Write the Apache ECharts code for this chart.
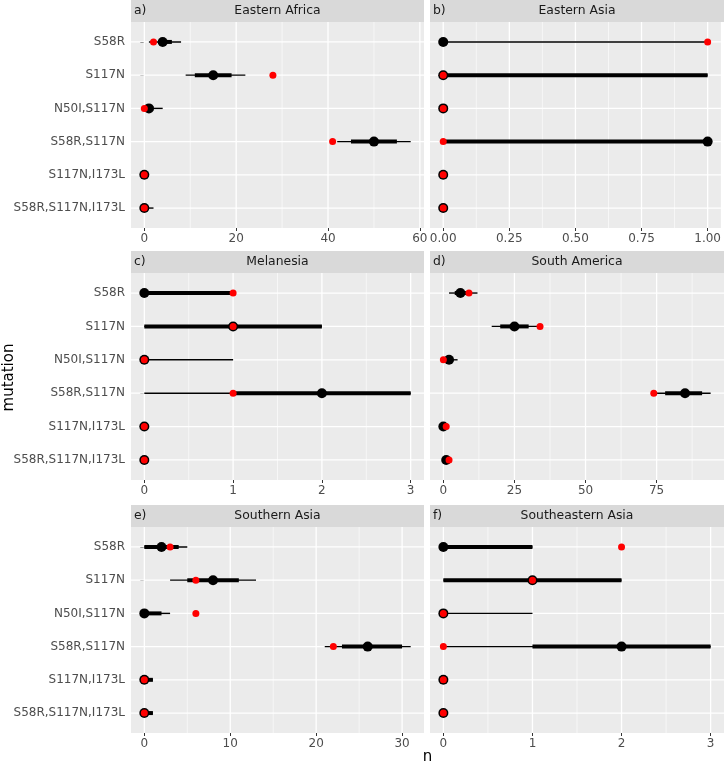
<!DOCTYPE html>
<html><head><meta charset="utf-8">
<script src="https://cdn.jsdelivr.net/npm/echarts@6/dist/echarts.min.js"></script>
<style>html,body{margin:0;padding:0;background:#fff}#c{width:724px;height:766px}</style>
</head><body><div id="c"></div>
<script>
// ---------------- DATA ----------------
const categories = ['S58R','S117N','N50I,S117N','S58R,S117N','S117N,I173L','S58R,S117N,I173L'];
const regions = ['Eastern Africa','Eastern Asia','Melanesia','South America','Southern Asia','Southeastern Asia'];
const panelTags = ['a)','b)','c)','d)','e)','f)'];
const tickLabels = [[0,20,40,60],[0,0.25,0.5,0.75,1],[0,1,2,3],[0,25,50,75],[0,10,20,30],[0,1,2,3]];
const tickDecimals = [0,2,0,0,0,0];

const easternAfricaMedian = [4,15,1,50,0,0];
const easternAfricaLo95   = [1,9,0,42,0,0];
const easternAfricaHi95   = [8,22,4,58,1,2];
const easternAfricaLo50   = [3,11,0,45,0,0];
const easternAfricaHi50   = [6,19,2,55,0,1];
const easternAfricaObs    = [2,28,0,41,0,0];

const easternAsiaMedian = [0,0,0,1,0,0];
const easternAsiaLo95   = [0,0,0,0,0,0];
const easternAsiaHi95   = [1,1,0,1,0,0];
const easternAsiaLo50   = [0,0,0,0,0,0];
const easternAsiaHi50   = [0,1,0,1,0,0];
const easternAsiaObs    = [1,0,0,0,0,0];

const melanesiaMedian = [0,1,0,2,0,0];
const melanesiaLo95   = [0,0,0,0,0,0];
const melanesiaHi95   = [1,2,1,3,0,0];
const melanesiaLo50   = [0,0,0,1,0,0];
const melanesiaHi50   = [1,2,0,3,0,0];
const melanesiaObs    = [1,1,0,1,0,0];

const southAmericaMedian = [6,25,2,85,0,1];
const southAmericaLo95   = [2,17,0,74,0,0];
const southAmericaHi95   = [12,33,5,94,1,2];
const southAmericaLo50   = [4,20,1,78,0,1];
const southAmericaHi50   = [8,30,3,91,1,2];
const southAmericaObs    = [9,34,0,74,1,2];

const southernAsiaMedian = [2,8,0,26,0,0];
const southernAsiaLo95   = [0,3,0,21,0,0];
const southernAsiaHi95   = [5,13,3,31,1,1];
const southernAsiaLo50   = [0,5,0,23,0,0];
const southernAsiaHi50   = [4,11,2,30,1,1];
const southernAsiaObs    = [3,6,6,22,0,0];

const southeasternAsiaMedian = [0,1,0,2,0,0];
const southeasternAsiaLo95   = [0,0,0,0,0,0];
const southeasternAsiaHi95   = [1,2,1,3,0,0];
const southeasternAsiaLo50   = [0,0,0,1,0,0];
const southeasternAsiaHi50   = [1,2,0,3,0,0];
const southeasternAsiaObs    = [2,1,0,0,0,0];

const panelData = [
  {median:easternAfricaMedian, lo95:easternAfricaLo95, hi95:easternAfricaHi95, lo50:easternAfricaLo50, hi50:easternAfricaHi50, obs:easternAfricaObs},
  {median:easternAsiaMedian, lo95:easternAsiaLo95, hi95:easternAsiaHi95, lo50:easternAsiaLo50, hi50:easternAsiaHi50, obs:easternAsiaObs},
  {median:melanesiaMedian, lo95:melanesiaLo95, hi95:melanesiaHi95, lo50:melanesiaLo50, hi50:melanesiaHi50, obs:melanesiaObs},
  {median:southAmericaMedian, lo95:southAmericaLo95, hi95:southAmericaHi95, lo50:southAmericaLo50, hi50:southAmericaHi50, obs:southAmericaObs},
  {median:southernAsiaMedian, lo95:southernAsiaLo95, hi95:southernAsiaHi95, lo50:southernAsiaLo50, hi50:southernAsiaHi50, obs:southernAsiaObs},
  {median:southeasternAsiaMedian, lo95:southeasternAsiaLo95, hi95:southeasternAsiaHi95, lo50:southeasternAsiaLo50, hi50:southeasternAsiaHi50, obs:southeasternAsiaObs}
];

// ---------------- LAYOUT ----------------
const FONT = 'DejaVu Sans';
const cols = [{left:131, width:293},{left:430, width:294}];
const rows = [{top:22, height:206, stripTop:0},{top:273, height:207, stripTop:251},{top:527, height:206, stripTop:505}];
const Y_MIN = 0.4, Y_MAX = categories.length + 0.6;

const chart = echarts.init(document.getElementById('c'), null, {renderer:'canvas'});
const grids = [], xAxes = [], yAxes = [], series = [], graphics = [];

function lineItem(x1, y1, x2, y2, w, color) {
  return {type:'line', shape:{x1:x1,y1:y1,x2:x2,y2:y2}, style:{stroke:color, lineWidth:w, lineCap:'butt'}};
}

regions.forEach((name, i) => {
  const c = cols[i % 2], r = rows[Math.floor(i / 2)];
  const d = panelData[i];
  const all = [].concat(d.median, d.lo95, d.hi95, d.lo50, d.hi50, d.obs);
  const lo = Math.min(...all), hi = Math.max(...all);
  const pad = (hi - lo) * 0.05;
  const ticks = tickLabels[i];
  const step = ticks[1] - ticks[0];
  const minor = [];
  for (let k = 0; k <= ticks.length; k++) {
    const m = ticks[0] + (k - 0.5) * step;
    if (m > lo - pad && m < hi + pad) minor.push(m);
  }
  grids.push({left:c.left, top:r.top, width:c.width, height:r.height, show:true,
    backgroundColor:'#EBEBEB', borderWidth:0, containLabel:false});
  xAxes.push({type:'value', gridIndex:i, min:lo - pad, max:hi + pad,
    splitLine:{show:false}, axisLine:{show:false},
    axisTick:{show:true, customValues:ticks, length:3, lineStyle:{color:'#333333', width:1}},
    axisLabel:{customValues:ticks, formatter:v => Number(v).toFixed(tickDecimals[i]),
      color:'#4D4D4D', fontSize:12, fontFamily:FONT, margin:5, hideOverlap:false}});
  const yVals = categories.map((_, k) => k + 1);
  const isLeft = (i % 2) === 0;
  yAxes.push({type:'value', gridIndex:i, min:Y_MIN, max:Y_MAX, inverse:true,
    splitLine:{show:false}, axisLine:{show:false},
    axisTick:{show:isLeft, customValues:yVals, length:4, lineStyle:{color:'#333333', width:1}},
    axisLabel:{show:isLeft, customValues:yVals, formatter:v => categories[Math.round(v) - 1] || '',
      color:'#4D4D4D', fontSize:12, fontFamily:FONT, margin:6}});

  // grid lines (major + minor vertical, major horizontal)
  const vData = ticks.map(t => [t, 1]).concat(minor.map(m => [m, 0]));
  series.push({type:'custom', xAxisIndex:i, yAxisIndex:i, z:1, silent:true, clip:false,
    data:vData, encode:{x:0},
    renderItem:(params, api) => {
      const cs = params.coordSys;
      const p = api.coord([api.value(0), Y_MIN]);
      return lineItem(p[0], cs.y, p[0], cs.y + cs.height, api.value(1) ? 1.3 : 0.6, '#FFFFFF');
    }});
  series.push({type:'custom', xAxisIndex:i, yAxisIndex:i, z:1, silent:true, clip:false,
    data:yVals.map(v => [lo, v]), encode:{y:1},
    renderItem:(params, api) => {
      const cs = params.coordSys;
      const p = api.coord([api.value(0), api.value(1)]);
      return lineItem(cs.x, p[1], cs.x + cs.width, p[1], 1.3, '#FFFFFF');
    }});
  // thin interval
  series.push({type:'custom', xAxisIndex:i, yAxisIndex:i, z:2, silent:true,
    data:categories.map((_, k) => [d.lo95[k], d.hi95[k], k + 1]), encode:{x:[0,1], y:2},
    renderItem:(params, api) => {
      const a = api.coord([api.value(0), api.value(2)]), b = api.coord([api.value(1), api.value(2)]);
      return lineItem(a[0], a[1], b[0], b[1], 1.4, '#000000');
    }});
  // thick interval
  series.push({type:'custom', xAxisIndex:i, yAxisIndex:i, z:3, silent:true,
    data:categories.map((_, k) => [d.lo50[k], d.hi50[k], k + 1]), encode:{x:[0,1], y:2},
    renderItem:(params, api) => {
      const a = api.coord([api.value(0), api.value(2)]), b = api.coord([api.value(1), api.value(2)]);
      return lineItem(a[0], a[1], b[0], b[1], 4, '#000000');
    }});
  // median points
  series.push({type:'scatter', xAxisIndex:i, yAxisIndex:i, z:4, silent:true,
    symbolSize:10, itemStyle:{color:'#000000', opacity:1},
    data:categories.map((_, k) => [d.median[k], k + 1])});
  // observed points
  series.push({type:'scatter', xAxisIndex:i, yAxisIndex:i, z:5, silent:true,
    symbolSize:7, itemStyle:{color:'#FF0000', opacity:1},
    data:categories.map((_, k) => [d.obs[k], k + 1])});

  // strip
  graphics.push({type:'rect', shape:{x:c.left, y:r.stripTop, width:c.width, height:r.top - r.stripTop},
    style:{fill:'#D9D9D9'}, z:0});
  graphics.push({type:'text', x:c.left + 3, y:r.stripTop + (r.top - r.stripTop) / 2,
    style:{text:panelTags[i], fill:'#1A1A1A', font:'12.4px ' + FONT, textAlign:'left', textVerticalAlign:'middle'}});
  graphics.push({type:'text', x:c.left + c.width / 2, y:r.stripTop + (r.top - r.stripTop) / 2,
    style:{text:name, fill:'#1A1A1A', font:'12.4px ' + FONT, textAlign:'center', textVerticalAlign:'middle'}});
});

graphics.push({type:'text', x:9, y:(rows[0].top + rows[2].top + rows[2].height) / 2, rotation:Math.PI / 2,
  style:{text:'mutation', fill:'#000000', font:'15px ' + FONT, textAlign:'center', textVerticalAlign:'middle'}});
graphics.push({type:'text', x:(cols[0].left + cols[1].left + cols[1].width) / 2, y:757,
  style:{text:'n', fill:'#000000', font:'15px ' + FONT, textAlign:'center', textVerticalAlign:'middle'}});

chart.setOption({
  animation:false,
  backgroundColor:'#FFFFFF',
  grid:grids, xAxis:xAxes, yAxis:yAxes, series:series, graphic:graphics
});
</script></body></html>
